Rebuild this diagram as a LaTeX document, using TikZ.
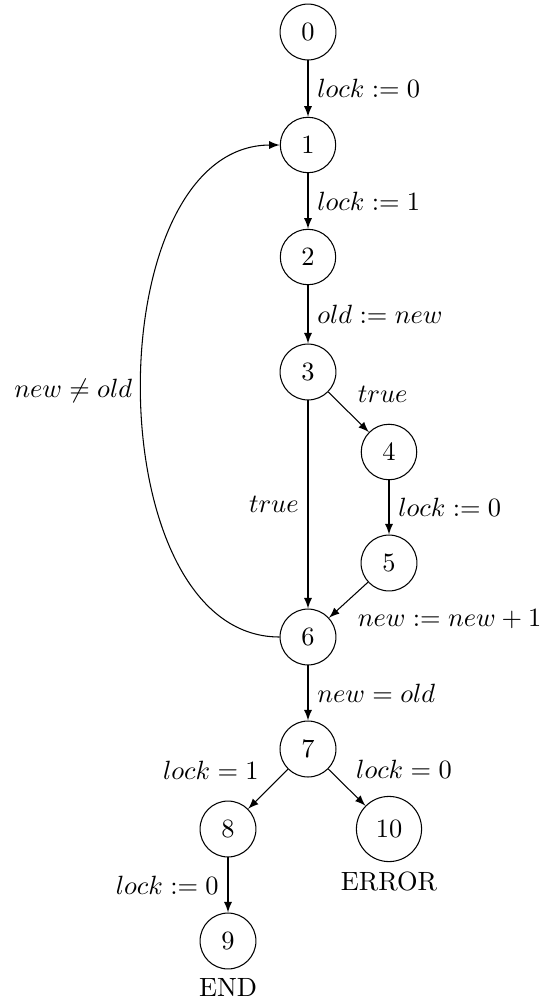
\documentclass[tikz,border=0pt]{standalone}
\usetikzlibrary{arrows}
\begin{document}
\begin{tikzpicture}[x=0.3788pt,y=-0.3788pt,
  st/.style={circle,draw,inner sep=4.5pt},
  tr/.style={-latex},
  lab/.style={label distance=-1.5pt}]
\useasboundingbox (0,0) rectangle (541,998);
\node[st] (n0) at (308,32) {0};
\node[st] (n1) at (308,145) {1};
\node[st] (n2) at (308,257) {2};
\node[st] (n3) at (308,372) {3};
\node[st] (n4) at (389,452) {4};
\node[st] (n5) at (389,563) {5};
\node[st] (n6) at (308,637) {6};
\node[st] (n7) at (308,749) {7};
\node[st] (n8) at (228,829) {8};
\node[st,lab,label={below:ERROR}] (n10) at (389,829) {10};
\node[st,lab,label={below:END}] (n9) at (228,941) {9};
\draw[tr] (n0) -- node[right] {$lock := 0$} (n1);
\draw[tr] (n1) -- node[right] {$lock := 1$} (n2);
\draw[tr] (n2) -- node[right] {$old := new$} (n3);
\draw[tr] (n3) -- node[above right] {$true$} (n4);
\draw[tr] (n3) -- node[left] {$true$} (n6);
\draw[tr] (n4) -- node[right] {$lock := 0$} (n5);
\draw[tr] (n5) -- node[below right] {$new := new + 1$} (n6);
\draw[tr] (n6) -- node[right] {$new = old$} (n7);
\draw[tr] (n7) -- node[above left] {$lock = 1$} (n8);
\draw[tr] (n7) -- node[above right] {$lock = 0$} (n10);
\draw[tr] (n8) -- node[left] {$lock := 0$} (n9);
\draw[tr] (n6) to[out=180,in=180,looseness=0.96] node[left] {$new \neq old$} (n1);
\end{tikzpicture}
\end{document}
